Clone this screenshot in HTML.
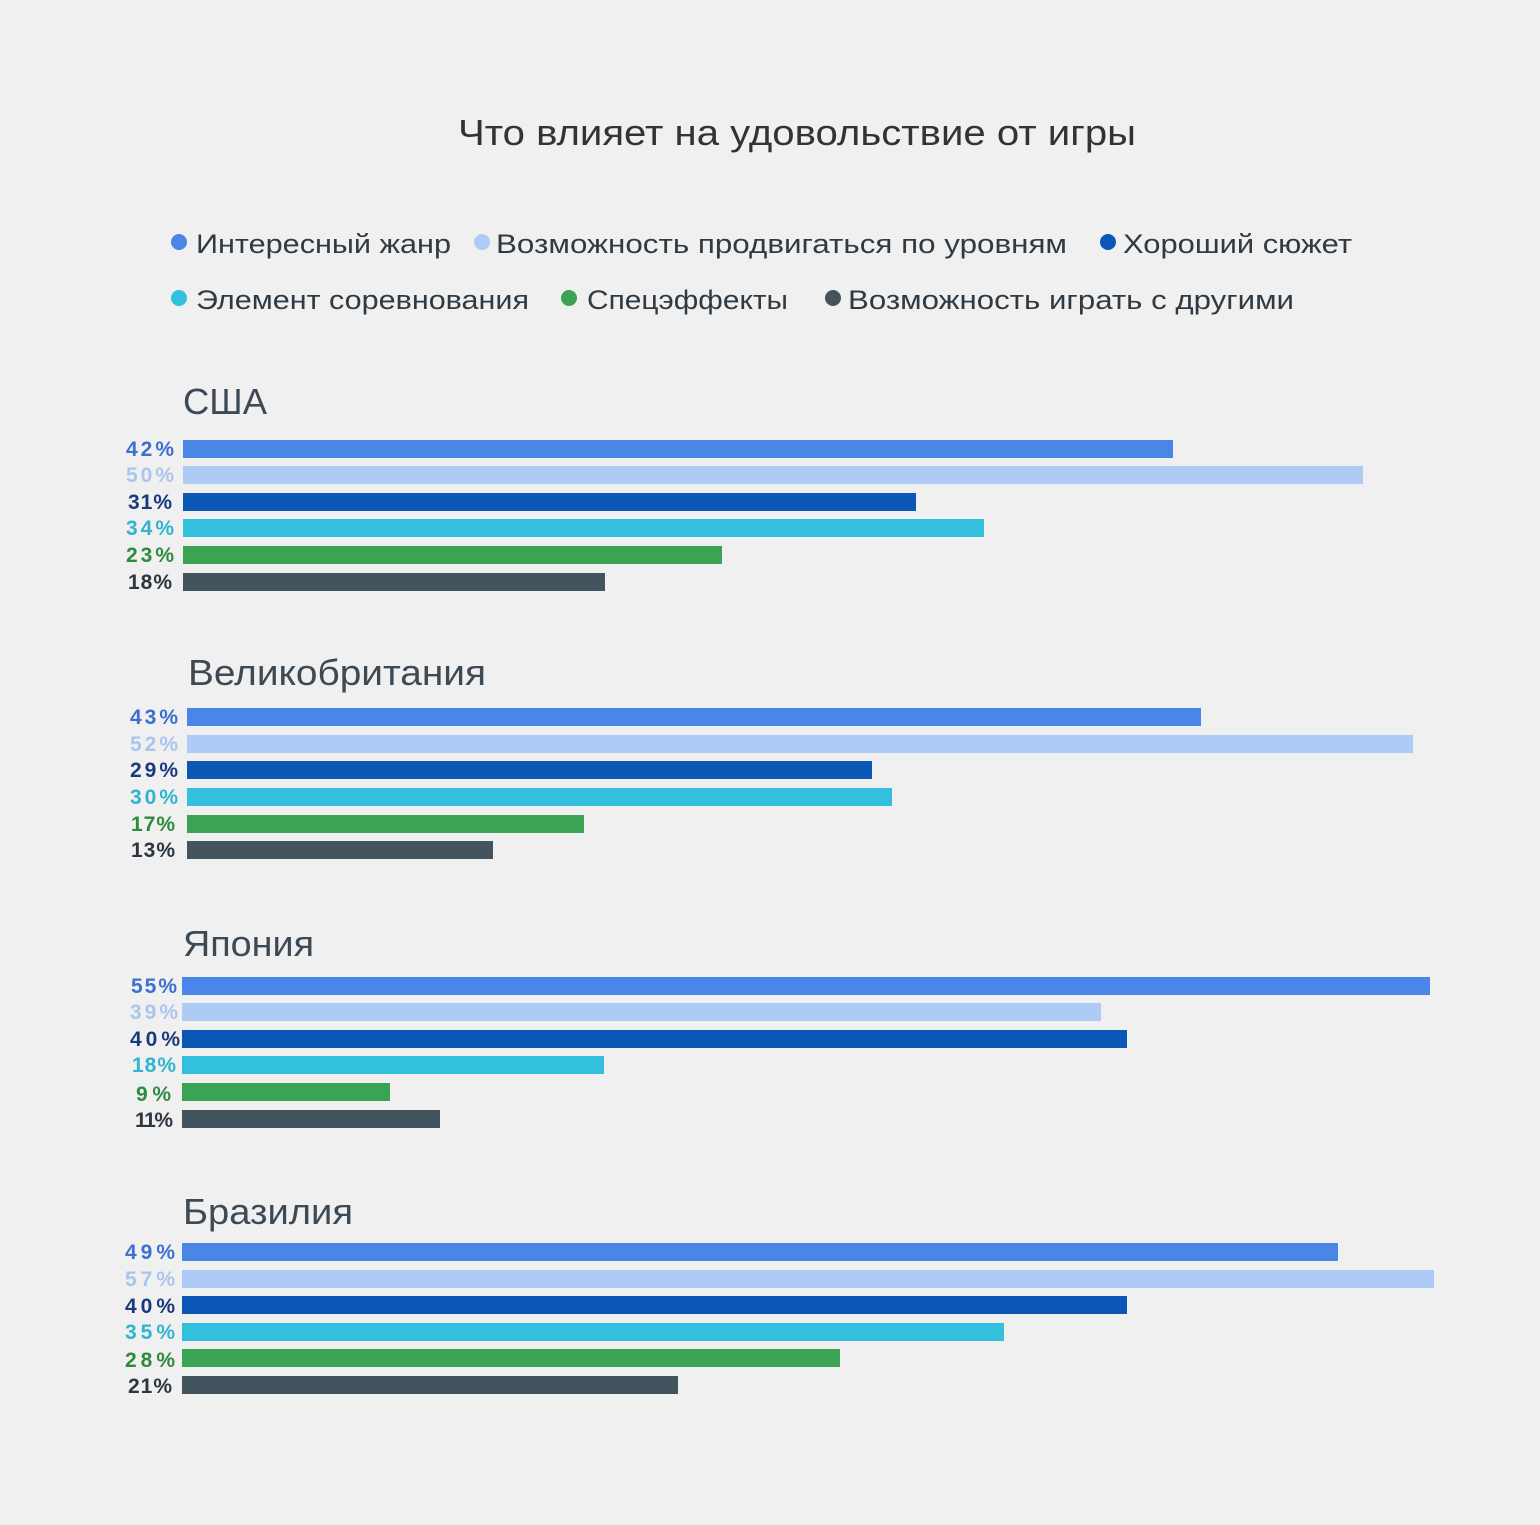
<!DOCTYPE html>
<html><head><meta charset="utf-8"><style>
html,body{margin:0;padding:0;background:#f0f0f0}
svg{display:block}
text{font-family:"Liberation Sans",sans-serif}
.l{font-size:27px;fill:#2f3a42}
.c{font-size:36px;fill:#3d4a55}
.p{font-size:21px;font-weight:bold;text-anchor:end}
</style></head><body>
<svg width="1540" height="1525" xmlns="http://www.w3.org/2000/svg">
<rect width="1540" height="1525" fill="#f0f0f0"/>
<text x="458" y="145" font-size="36" fill="#333" textLength="678" lengthAdjust="spacingAndGlyphs">Что влияет на удовольствие от игры</text>
<circle cx="179" cy="242" r="8" fill="#4a86e8"/><text class="l" x="196" y="253" textLength="255" lengthAdjust="spacingAndGlyphs">Интересный жанр</text>
<circle cx="482" cy="242" r="8" fill="#aecbf5"/><text class="l" x="496" y="253" textLength="571" lengthAdjust="spacingAndGlyphs">Возможность продвигаться по уровням</text>
<circle cx="1108" cy="242" r="8" fill="#0b57b5"/><text class="l" x="1123" y="253" textLength="229" lengthAdjust="spacingAndGlyphs">Хороший сюжет</text>
<circle cx="179" cy="298" r="8" fill="#33c0dc"/><text class="l" x="196" y="309" textLength="333" lengthAdjust="spacingAndGlyphs">Элемент соревнования</text>
<circle cx="569" cy="298" r="8" fill="#3aa454"/><text class="l" x="587" y="309" textLength="201" lengthAdjust="spacingAndGlyphs">Спецэффекты</text>
<circle cx="833" cy="298" r="8" fill="#44545e"/><text class="l" x="848" y="309" textLength="446" lengthAdjust="spacingAndGlyphs">Возможность играть с другими</text>

<text class="c" x="183" y="414" textLength="84" lengthAdjust="spacingAndGlyphs">США</text>
<text class="c" x="188" y="685" textLength="298" lengthAdjust="spacingAndGlyphs">Великобритания</text>
<text class="c" x="183" y="956" textLength="131" lengthAdjust="spacingAndGlyphs">Япония</text>
<text class="c" x="183" y="1224" textLength="170" lengthAdjust="spacingAndGlyphs">Бразилия</text>

<g>
<rect x="183" y="440" width="990" height="18" fill="#4a86e8"/><text class="p" x="174" y="456" fill="#3b6fd0" textLength="48">42%</text>
<rect x="183" y="466" width="1180" height="18" fill="#aecbf5"/><text class="p" x="174" y="482" fill="#aac5ee" textLength="48">50%</text>
<rect x="183" y="493" width="733" height="18" fill="#0b57b5"/><text class="p" x="172" y="509" fill="#1a3a80" textLength="44">31%</text>
<rect x="183" y="519" width="801" height="18" fill="#33c0dc"/><text class="p" x="174" y="535" fill="#2fb5d0" textLength="48">34%</text>
<rect x="183" y="546" width="539" height="18" fill="#3aa454"/><text class="p" x="174" y="562" fill="#2e8b3e" textLength="48">23%</text>
<rect x="183" y="573" width="422" height="18" fill="#44545e"/><text class="p" x="172" y="589" fill="#2b3640" textLength="44">18%</text>
</g>
<g>
<rect x="187" y="708" width="1014" height="18" fill="#4a86e8"/><text class="p" x="178" y="724" fill="#3b6fd0" textLength="48">43%</text>
<rect x="187" y="735" width="1226" height="18" fill="#aecbf5"/><text class="p" x="178" y="751" fill="#aac5ee" textLength="48">52%</text>
<rect x="187" y="761" width="685" height="18" fill="#0b57b5"/><text class="p" x="178" y="777" fill="#1a3a80" textLength="48">29%</text>
<rect x="187" y="788" width="705" height="18" fill="#33c0dc"/><text class="p" x="178" y="804" fill="#2fb5d0" textLength="48">30%</text>
<rect x="187" y="815" width="397" height="18" fill="#3aa454"/><text class="p" x="175" y="831" fill="#2e8b3e" textLength="44">17%</text>
<rect x="187" y="841" width="306" height="18" fill="#44545e"/><text class="p" x="175" y="857" fill="#2b3640" textLength="44">13%</text>
</g>
<g>
<rect x="182" y="977" width="1248" height="18" fill="#4a86e8"/><text class="p" x="177" y="993" fill="#3b6fd0" textLength="46">55%</text>
<rect x="182" y="1003" width="919" height="18" fill="#aecbf5"/><text class="p" x="178" y="1019" fill="#aac5ee" textLength="48">39%</text>
<rect x="182" y="1030" width="945" height="18" fill="#0b57b5"/><text class="p" x="180" y="1046" fill="#1a3a80" textLength="50">40%</text>
<rect x="182" y="1056" width="422" height="18" fill="#33c0dc"/><text class="p" x="176" y="1072" fill="#2fb5d0" textLength="44">18%</text>
<rect x="182" y="1083" width="208" height="18" fill="#3aa454"/><text class="p" x="171" y="1101" fill="#2e8b3e" textLength="35">9%</text>
<rect x="182" y="1110" width="258" height="18" fill="#44545e"/><text class="p" x="173" y="1127" fill="#2b3640" textLength="38">11%</text>
</g>
<g>
<rect x="182" y="1243" width="1156" height="18" fill="#4a86e8"/><text class="p" x="175" y="1259" fill="#3b6fd0" textLength="50">49%</text>
<rect x="182" y="1270" width="1252" height="18" fill="#aecbf5"/><text class="p" x="175" y="1286" fill="#aac5ee" textLength="50">57%</text>
<rect x="182" y="1296" width="945" height="18" fill="#0b57b5"/><text class="p" x="175" y="1313" fill="#1a3a80" textLength="50">40%</text>
<rect x="182" y="1323" width="822" height="18" fill="#33c0dc"/><text class="p" x="175" y="1339" fill="#2fb5d0" textLength="50">35%</text>
<rect x="182" y="1349" width="658" height="18" fill="#3aa454"/><text class="p" x="175" y="1367" fill="#2e8b3e" textLength="50">28%</text>
<rect x="182" y="1376" width="496" height="18" fill="#44545e"/><text class="p" x="172" y="1393" fill="#2b3640" textLength="44">21%</text>
</g>
</svg>
</body></html>
